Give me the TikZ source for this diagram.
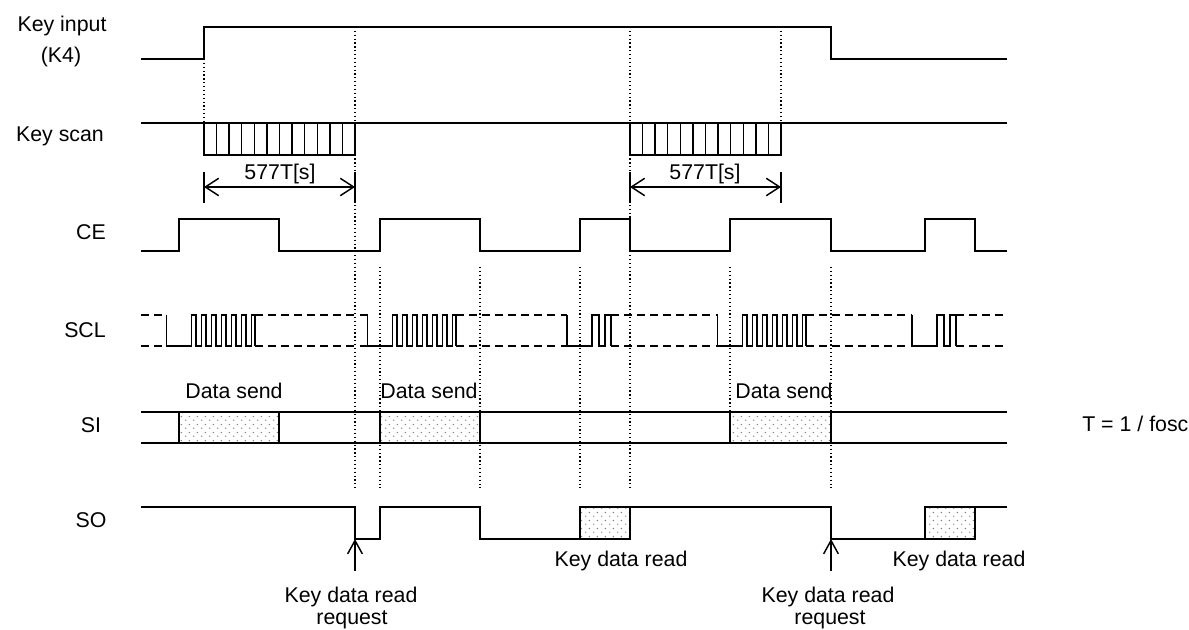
\documentclass[tikz,border=0pt]{standalone}
\usepackage{fontspec}
\setmainfont{Liberation Sans}
\usetikzlibrary{arrows.meta,patterns.meta}
\tikzdeclarepattern{name=sdots, type=uncolored,
  bounding box={(0pt,0pt) and (6pt,6pt)}, tile size={(6pt,6pt)},
  code={\pgfpathcircle{\pgfpoint{1.5pt}{1.5pt}}{0.6pt}\pgfpathcircle{\pgfpoint{4.5pt}{4.5pt}}{0.6pt}\pgfusepath{fill}}}
\begin{document}
\begin{tikzpicture}[x=0.75pt,y=-0.75pt,
  sig/.style={line width=1.1pt, line join=miter},
  dc/.style={line width=1.1pt, dash pattern=on 6pt off 3.8pt},
  guide/.style={line width=0.9pt, dotted},
  lbl/.style={font=\fontsize{16}{19}\selectfont, inner sep=0pt, anchor=base},
  dimarr/.style={line width=1.1pt, {Straight Barb[length=10pt,width=13pt]}-{Straight Barb[length=10pt,width=13pt]}},
  reqarr/.style={line width=1.1pt, -{Straight Barb[length=10pt,width=11pt]}},
  shade/.style={pattern={sdots}, pattern color=black!50}]
\useasboundingbox (0,0) rectangle (1189,630);

% ---------- labels ----------
\node[lbl] (lki1) at (62,32) {Key input};
\node[lbl] (lki2) at (61,63) {(K4)};
\node[lbl] (lks) at (60,142) {Key scan};
\node[lbl] (lce) at (91,240) {CE};
\node[lbl] (lscl) at (85,338) {SCL};
\node[lbl] (lsi) at (91,433) {SI};
\node[lbl] (lso) at (91,528) {SO};
\node[lbl, anchor=base west] (lt) at (1082,432) {T = 1 / fosc};

\node[lbl] (dl1) at (280,180) {577T[s]};
\node[lbl] (dl2) at (705,180) {577T[s]};
\node[lbl] (ds1) at (234,399) {Data send};
\node[lbl] (ds2) at (429,399) {Data send};
\node[lbl] (ds3) at (784,399) {Data send};
\node[lbl] (kr1) at (621,567) {Key data read};
\node[lbl] (kr2) at (959,567) {Key data read};
\node[lbl] (rq1a) at (351,602) {Key data read};
\node[lbl] (rq1b) at (352,624) {request};
\node[lbl] (rq2a) at (828,602) {Key data read};
\node[lbl] (rq2b) at (830,624) {request};

% ---------- shaded areas ----------
\fill[shade] (179,412) rectangle (279,443);
\fill[shade] (380,412) rectangle (480,443);
\fill[shade] (730,412) rectangle (831,443);
\fill[shade] (580,507) rectangle (630,539);
\fill[shade] (925,507) rectangle (975,539);

% ---------- dotted guides ----------
\draw[guide] (204,59) -- (204,123);
\draw[guide] (355,27) -- (355,488);
\draw[guide] (380,267) -- (380,488);
\draw[guide] (480,267) -- (480,488);
\draw[guide] (580,267) -- (580,488);
\draw[guide] (630,27) -- (630,488);
\draw[guide] (730,267) -- (730,412);
\draw[guide] (781,27) -- (781,123);
\draw[guide] (831,267) -- (831,488);

% ---------- Key input ----------
\draw[sig] (141,59) -- (204,59) -- (204,27) -- (831,27) -- (831,59) -- (1007,59);

% ---------- Key scan ----------
\draw[sig] (141,123) -- (1007,123);
\draw[sig] (204,123) rectangle (355,155);
\foreach \i in {1,...,11} \draw[sig] ({204+\i*151/12},123) -- ++(0,32);
\draw[sig] (630,123) rectangle (781,155);
\foreach \i in {1,...,11} \draw[sig] ({630+\i*151/12},123) -- ++(0,32);

% dimension lines
\draw[sig] (204,172) -- (204,203);
\draw[sig] (355,172) -- (355,203);
\draw[sig] (630,172) -- (630,203);
\draw[sig] (781,172) -- (781,203);
\coordinate (d1l) at (204,187); \coordinate (d1r) at (355,187);
\coordinate (d2l) at (630,187); \coordinate (d2r) at (781,187);
\draw[dimarr] (d1l) -- (d1r);
\draw[dimarr] (d2l) -- (d2r);

% ---------- CE ----------
\draw[sig] (141,251) -- (179,251) -- (179,219) -- (279,219) -- (279,251) -- (380,251) -- (380,219)
  -- (480,219) -- (480,251) -- (580,251) -- (580,219) -- (630,219) -- (630,251) -- (730,251)
  -- (730,219) -- (831,219) -- (831,251) -- (925,251) -- (925,219) -- (975,219) -- (975,251) -- (1007,251);

% ---------- SCL ----------
\foreach \a/\b in {141/166.5, 255/367.5, 456/567, 611/717.5, 806/912, 956/1007}{
  \draw[dc] (\a,315) -- (\b,315);
  \draw[dc] (\a,346) -- (\b,346);
}
\foreach \c in {179,380,730}{
  \draw[sig] (\c-12.5,315) -- (\c-12.5,346) -- (\c+12.5,346)
    \foreach \k in {0,...,5}{ -- (\c+12.5+10*\k,315) -- (\c+16.8+10*\k,315) -- (\c+16.8+10*\k,346) -- (\c+22.5+10*\k,346)}
    -- (\c+72.5,315) -- (\c+76,315) -- (\c+76,346);
}
\foreach \c in {580,925}{
  \draw[sig] (\c-13,315) -- (\c-13,346) -- (\c+12,346) -- (\c+12,315) -- (\c+19,315) -- (\c+19,346)
    -- (\c+25,346) -- (\c+25,315) -- (\c+31,315) -- (\c+31,346);
}

% ---------- SI ----------
\draw[sig] (141,412) -- (1007,412);
\draw[sig] (141,443) -- (1007,443);
\foreach \x in {179,279,380,480,730,831} \draw[sig] (\x,412) -- (\x,443);

% ---------- SO ----------
\draw[sig] (141,507) -- (355,507) -- (355,539) -- (380,539) -- (380,507) -- (480,507) -- (480,539)
  -- (580,539) -- (580,507) -- (831,507) -- (831,539) -- (925,539) -- (925,507) -- (1007,507);
\draw[sig] (580,507) rectangle (630,539);
\draw[sig] (925,507) rectangle (975,539);

% request arrows
\coordinate (a1t) at (355,571); \coordinate (a1h) at (355,539);
\coordinate (a2t) at (831,571); \coordinate (a2h) at (831,539);
\draw[reqarr] (a1t) -- (a1h);
\draw[reqarr] (a2t) -- (a2h);
\end{tikzpicture}
\end{document}
